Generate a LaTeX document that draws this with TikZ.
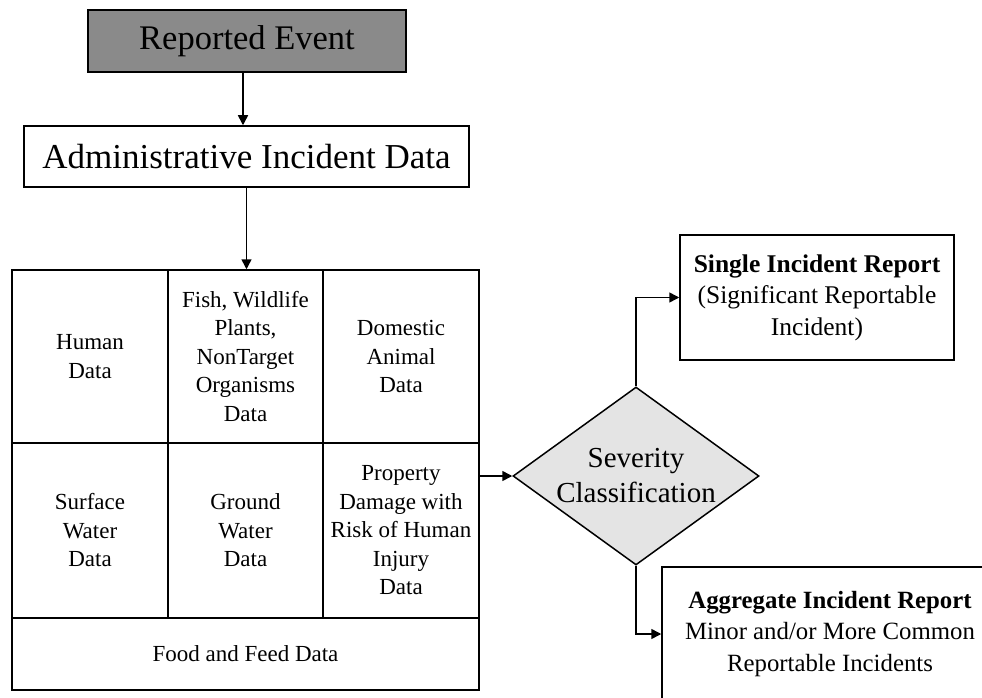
\documentclass[tikz,border=0pt]{standalone}
\usepackage{fontspec}
\setmainfont{Liberation Serif}
\usetikzlibrary{shapes.geometric,arrows.meta}
\definecolor{darkfill}{HTML}{8A8A8A}
\definecolor{lightfill}{HTML}{E4E4E4}
\tikzset{
  box/.style={draw=black,line width=1.5pt,inner sep=0pt,align=center,rectangle},
  cell/.style={box,font=\fontsize{23}{28.5}\selectfont},
  rbox/.style={box,font=\fontsize{25.5}{31.5}\selectfont},
  arr/.style={line width=1.5pt,-{Triangle[length=10pt,width=10pt]}}
}
\begin{document}
\begin{tikzpicture}[x=1pt,y=-1pt]
\clip (0,0) rectangle (982,698);
\useasboundingbox (0,0) rectangle (982,698);
\fill[white] (0,0) rectangle (982,698);

\node[box,fill=darkfill,minimum width=318pt,minimum height=62pt,font=\fontsize{34.5}{40}\selectfont] (rep) at (247,41) {Reported Event};
\node[box,minimum width=445pt,minimum height=61pt,font=\fontsize{35}{40}\selectfont] (adm) at (246.5,156.5) {Administrative Incident Data};

\node[cell,minimum width=156pt,minimum height=173pt] (c11) at (90,356.5) {Human\\Data};
\node[cell,minimum width=155pt,minimum height=173pt] (c12) at (245.5,356.5) {Fish, Wildlife\\Plants,\\NonTarget\\Organisms\\Data};
\node[cell,minimum width=156pt,minimum height=173pt] (c13) at (401,356.5) {Domestic\\Animal\\Data};
\node[cell,minimum width=156pt,minimum height=175pt] (c21) at (90,530.5) {Surface\\Water\\Data};
\node[cell,minimum width=155pt,minimum height=175pt] (c22) at (245.5,530.5) {Ground\\Water\\Data};
\node[cell,minimum width=156pt,minimum height=175pt] (c23) at (401,530.5) {Property\\Damage with\\Risk of Human\\Injury\\Data};
\node[cell,minimum width=467pt,minimum height=72pt] (food) at (245.5,654) {Food and Feed Data};

\node[diamond,draw=black,line width=1.5pt,fill=lightfill,aspect=1.382,inner sep=0pt,
      minimum width=246pt,minimum height=178pt,align=center,
      font=\fontsize{29}{35}\selectfont] (dia) at (636,476) {Severity\\Classification};

\node[rbox,minimum width=274pt,minimum height=125pt] (single) at (817,297.5)
  {\textbf{Single Incident Report}\\(Significant Reportable\\Incident)};
\node[rbox,minimum width=336pt,minimum height=134pt,font=\fontsize{24.8}{31.5}\selectfont] (agg) at (830,634)
  {\textbf{Aggregate Incident Report}\\Minor and/or More Common\\Reportable Incidents};

\draw[arr] ([xshift=-4pt]rep.south) -- ([xshift=-4pt]rep.south |- adm.north);
\draw[arr] (adm.south) -- (adm.south |- c12.north);
\draw[arr] (c23.east |- dia.west) -- (dia.west);
\draw[arr] (dia.north) |- (single.west);
\draw[arr] (dia.south) |- (agg.west);
\end{tikzpicture}
\end{document}
